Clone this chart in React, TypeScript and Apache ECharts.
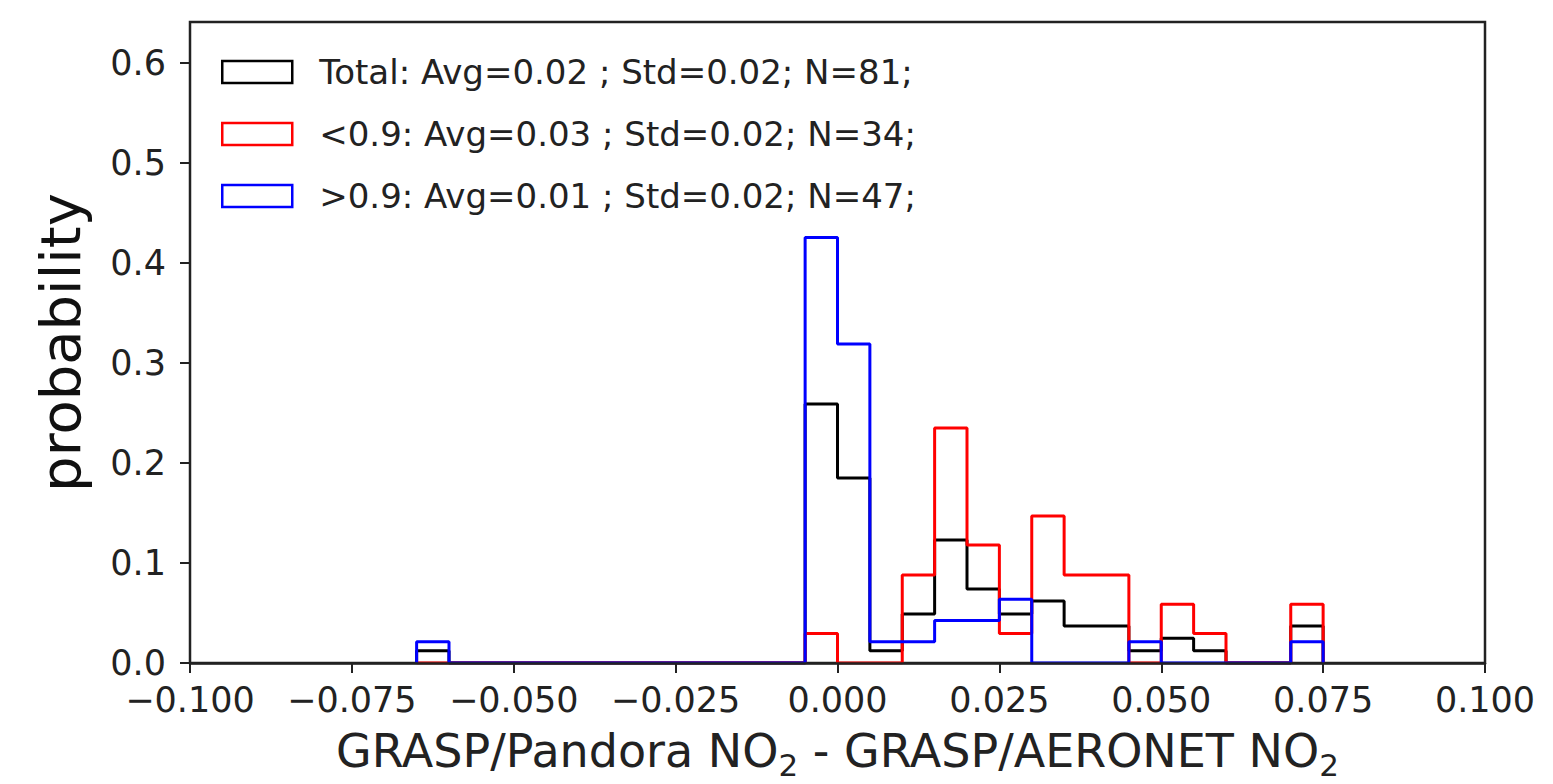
import React, { useEffect, useRef } from "react";
import * as echarts from "echarts";

// Histogram bin edges (width 0.005)
const binEdges = [
  -0.065, -0.06, -0.055, -0.05, -0.045, -0.04, -0.035, -0.03, -0.025, -0.02,
  -0.015, -0.01, -0.005, 0.0, 0.005, 0.01, 0.015, 0.02, 0.025, 0.03, 0.035,
  0.04, 0.045, 0.05, 0.055, 0.06, 0.065, 0.07, 0.075,
];

// probability per bin (28 bins)
const totalValues = [
  0.0123, 0, 0, 0, 0, 0, 0, 0, 0, 0, 0, 0, 0.259, 0.185, 0.0123, 0.049, 0.123,
  0.074, 0.049, 0.062, 0.037, 0.037, 0.0123, 0.0247, 0.0123, 0, 0, 0.037,
];
const lowValues = [
  0, 0, 0, 0, 0, 0, 0, 0, 0, 0, 0, 0, 0.0294, 0, 0, 0.088, 0.235, 0.118, 0.0294,
  0.147, 0.088, 0.088, 0, 0.0588, 0.0294, 0, 0, 0.0588,
];
const highValues = [
  0.0213, 0, 0, 0, 0, 0, 0, 0, 0, 0, 0, 0, 0.4255, 0.319, 0.0213, 0.0213,
  0.0426, 0.0426, 0.0638, 0, 0, 0, 0.0213, 0, 0, 0, 0, 0.0213,
];

const seriesNames = [
  "Total: Avg=0.02 ; Std=0.02; N=81;",
  "<0.9: Avg=0.03 ; Std=0.02; N=34;",
  ">0.9: Avg=0.01 ; Std=0.02; N=47;",
];
const seriesColors = ["#000000", "#ff0000", "#0000ff"];

const yTickValues = [0, 0.1, 0.2, 0.3, 0.4, 0.5, 0.6];

function stepOutline(values: number[]): number[][] {
  const pts: number[][] = [[binEdges[0], 0]];
  for (let i = 0; i < values.length; i++) {
    pts.push([binEdges[i], values[i]]);
    pts.push([binEdges[i + 1], values[i]]);
  }
  pts.push([binEdges[binEdges.length - 1], 0]);
  return pts;
}

const FONT = "DejaVu Sans";

export default function App() {
  const ref = useRef<HTMLDivElement>(null);
  useEffect(() => {
    document.body.style.margin = "0";
    const chart = echarts.init(ref.current!, null, { renderer: "svg" });
    const allValues = [totalValues, lowValues, highValues];
    chart.setOption({
      animation: false,
      backgroundColor: "#ffffff",
      grid: {
        left: 190,
        right: 68,
        top: 22,
        bottom: 121,
        outerBoundsMode: "none",
        containLabel: false,
        show: true,
        borderColor: "#222",
        borderWidth: 2.5,
        backgroundColor: "transparent",
      },
      legend: {
        orient: "vertical",
        left: 221,
        top: 55,
        icon: "rect",
        itemWidth: 70,
        itemHeight: 22,
        itemGap: 28,
        padding: 0,
        selectedMode: false,
        textStyle: {
          fontFamily: FONT,
          fontSize: 34,
          color: "#222",
          lineHeight: 22,
          padding: [0, 0, 0, 22],
        },
        data: seriesNames.map((n, i) => ({
          name: n,
          itemStyle: {
            color: "transparent",
            borderColor: seriesColors[i],
            borderWidth: 2.5,
          },
        })),
      },
      xAxis: {
        type: "value",
        min: -0.1,
        max: 0.1,
        interval: 0.025,
        z: 10,
        splitLine: { show: false },
        axisLine: { show: true, onZero: false, lineStyle: { color: "#222", width: 2.5 } },
        axisTick: { show: true, length: 10, lineStyle: { color: "#222", width: 2 } },
        axisLabel: {
          fontFamily: FONT,
          fontSize: 35,
          color: "#222",
          margin: 19,
          formatter: (v: number) =>
            Math.abs(v) < 1e-9 ? "0.000" : v.toFixed(3).replace("-", "\u2212"),
        },
        name: "GRASP/Pandora NO{sub|2} - GRASP/AERONET NO{sub|2}",
        nameLocation: "middle",
        nameGap: 56,
        nameTextStyle: {
          fontFamily: FONT,
          fontSize: 46,
          color: "#222",
          lineHeight: 50,
          rich: {
            sub: {
              fontFamily: FONT,
              fontSize: 31,
              color: "#222",
              lineHeight: 30,
              padding: [28, 0, 0, 0],
            },
          },
        },
      },
      yAxis: {
        type: "value",
        min: 0,
        max: 0.641,
        splitLine: { show: false },
        axisLine: { show: false, onZero: false },
        axisTick: {
          show: true,
          length: 10,
          customValues: yTickValues,
          lineStyle: { color: "#222", width: 2 },
        },
        axisLabel: {
          fontFamily: FONT,
          fontSize: 35,
          color: "#222",
          margin: 24,
          customValues: yTickValues,
          formatter: (v: number) => v.toFixed(1),
        },
        name: "probability",
        nameLocation: "middle",
        nameGap: 100,
        nameTextStyle: {
          fontFamily: FONT,
          fontSize: 56,
          color: "#111",
          lineHeight: 60,
        },
      },
      series: seriesNames.map((n, i) => ({
        name: n,
        type: "line",
        data: stepOutline(allValues[i]),
        symbol: "none",
        color: seriesColors[i],
        lineStyle: { color: seriesColors[i], width: 3 },
        itemStyle: { color: seriesColors[i] },
        emphasis: { disabled: true },
        z: 2,
      })),
    });
    return () => chart.dispose();
  }, []);
  return (
    <div
      ref={ref}
      style={{ position: "fixed", left: 0, top: 0, width: 1553, height: 784, background: "#fff" }}
    />
  );
}
